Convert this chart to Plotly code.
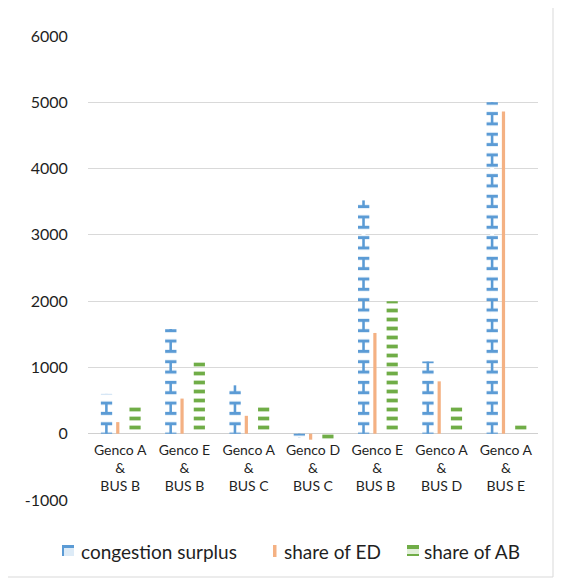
import plotly.graph_objects as go

categories = ["Genco A<br>&<br>BUS B", "Genco E<br>&<br>BUS B", "Genco A<br>&<br>BUS C",
              "Genco D<br>&<br>BUS C", "Genco E<br>&<br>BUS B ", "Genco A<br>&<br>BUS D",
              "Genco A<br>&<br>BUS E"]
congestion_surplus = [600, 1580, 730, -60, 3520, 1090, 5000]
share_of_ED = [175, 530, 270, -90, 1520, 790, 4860]
share_of_AB = [450, 1080, 450, -110, 2000, 410, 130]
series_names = ["congestion surplus", "share of ED", "share of AB"]
y_tick_values = [-1000, 0, 1000, 2000, 3000, 4000, 5000, 6000]
y_tick_labels = ["-1000", "0", "1000", "2000", "3000", "4000", "5000", "6000"]

BLUE = "#5B9BD5"
ORANGE = "#F4B183"
GREEN = "#70AD47"
FONT = "Lato"
TXT = "#1F1F1F"

W, H = 562, 582
OFF = 8  # page body margin
# plot area in screen pixels
SX0, SX1, SY0, SY1 = 88, 538, 36, 500
L, R = SX0 - OFF, W - (SX1 - OFF)
T, B = SY0 - OFF, H - (SY1 - OFF)
PW, PH = SX1 - SX0, SY1 - SY0


def px_x(px):
    return (px - SX0) / PW


def px_y(py):
    return (SY1 - py) / PH


def patt_bar(y, name, offset, width, shape=None, fg=None, size=8, solidity=0.3, solid=None):
    if solid is not None:
        marker = dict(color=solid, line=dict(width=0))
    else:
        marker = dict(color="rgba(0,0,0,0)", line=dict(width=0),
                      pattern=dict(shape=shape, fgcolor=fg, bgcolor="rgba(0,0,0,0)",
                                   size=size, solidity=solidity, fillmode="replace"))
    return go.Bar(x=categories, y=y, name=name, offset=offset, width=width,
                  marker=marker, showlegend=False, hoverinfo="skip")


period = 20.68
fig = go.Figure()
# congestion surplus: "I-beam" pattern built from three overlaid layers
fig.add_trace(patt_bar(congestion_surplus, series_names[0], -0.234, 0.040, solid=BLUE))
fig.add_trace(patt_bar(congestion_surplus, series_names[0], -0.245, 0.062, shape="-",
                       fg="#FFFFFF", size=period, solidity=0.5))
fig.add_trace(patt_bar(congestion_surplus, series_names[0], -0.300, 0.176, shape="-",
                       fg=BLUE, size=period / 2, solidity=0.30))
# share of ED: thin stripe
fig.add_trace(patt_bar(share_of_ED, series_names[1], -0.062, 0.050, solid=ORANGE))
# share of AB: horizontal dashes
fig.add_trace(patt_bar(share_of_AB, series_names[2], 0.145, 0.174, shape="-",
                       fg=GREEN, size=9, solidity=0.42))

shapes = [
    # chart frame
    dict(type="rect", xref="paper", yref="paper", x0=px_x(7), x1=px_x(553),
         y0=px_y(577), y1=px_y(7), line=dict(color="#D9D9D9", width=1), layer="below"),
    # legend symbol: congestion surplus
    dict(type="rect", xref="paper", yref="paper", x0=px_x(62), x1=px_x(74),
         y0=px_y(556), y1=px_y(545), fillcolor="#DDEBF7", line=dict(width=0)),
    dict(type="rect", xref="paper", yref="paper", x0=px_x(62), x1=px_x(74),
         y0=px_y(548), y1=px_y(545), fillcolor=BLUE, line=dict(width=0)),
    dict(type="rect", xref="paper", yref="paper", x0=px_x(62), x1=px_x(64),
         y0=px_y(556), y1=px_y(545), fillcolor=BLUE, line=dict(width=0)),
    # legend symbol: share of ED
    dict(type="rect", xref="paper", yref="paper", x0=px_x(273), x1=px_x(276.5),
         y0=px_y(557), y1=px_y(545), fillcolor=ORANGE, line=dict(width=0)),
    # legend symbol: share of AB
    dict(type="rect", xref="paper", yref="paper", x0=px_x(407), x1=px_x(419),
         y0=px_y(549), y1=px_y(545), fillcolor=GREEN, line=dict(width=0)),
    dict(type="rect", xref="paper", yref="paper", x0=px_x(407), x1=px_x(419),
         y0=px_y(554), y1=px_y(549), fillcolor="#E2F0D9", line=dict(width=0)),
    dict(type="rect", xref="paper", yref="paper", x0=px_x(407), x1=px_x(419),
         y0=px_y(556), y1=px_y(554), fillcolor=GREEN, line=dict(width=0)),
]

legend_x = [79, 282, 422]
annotations = [
    dict(text=n, xref="paper", yref="paper", x=px_x(xp), y=px_y(551), xanchor="left",
         yanchor="middle", showarrow=False, font=dict(family=FONT, size=19, color=TXT))
    for n, xp in zip(series_names, legend_x)
]

fig.update_layout(
    width=W, height=H, margin=dict(l=L, r=R, t=T, b=B),
    barmode="overlay", plot_bgcolor="white", paper_bgcolor="white",
    showlegend=False, shapes=shapes, annotations=annotations,
    font=dict(family=FONT, color=TXT),
)
fig.update_yaxes(range=[-1000, 6000], tickmode="array", tickvals=y_tick_values,
                 ticktext=y_tick_labels, showgrid=True,
                 gridcolor="#D9D9D9", gridwidth=1, zeroline=True, zerolinecolor="#D0D0D0",
                 zerolinewidth=1.3, showline=False, ticks="outside", ticklen=16,
                 tickcolor="rgba(0,0,0,0)", tickfont=dict(family=FONT, size=16, color=TXT),
                 fixedrange=True)
fig.update_xaxes(type="category", range=[-0.5, 6.5], anchor="free", position=1 / 7,
                 showgrid=False, showline=False, ticks="outside", ticklen=3,
                 tickcolor="rgba(0,0,0,0)", tickfont=dict(family=FONT, size=14, color=TXT),
                 tickangle=0, fixedrange=True)

fig.write_html("out.html")
